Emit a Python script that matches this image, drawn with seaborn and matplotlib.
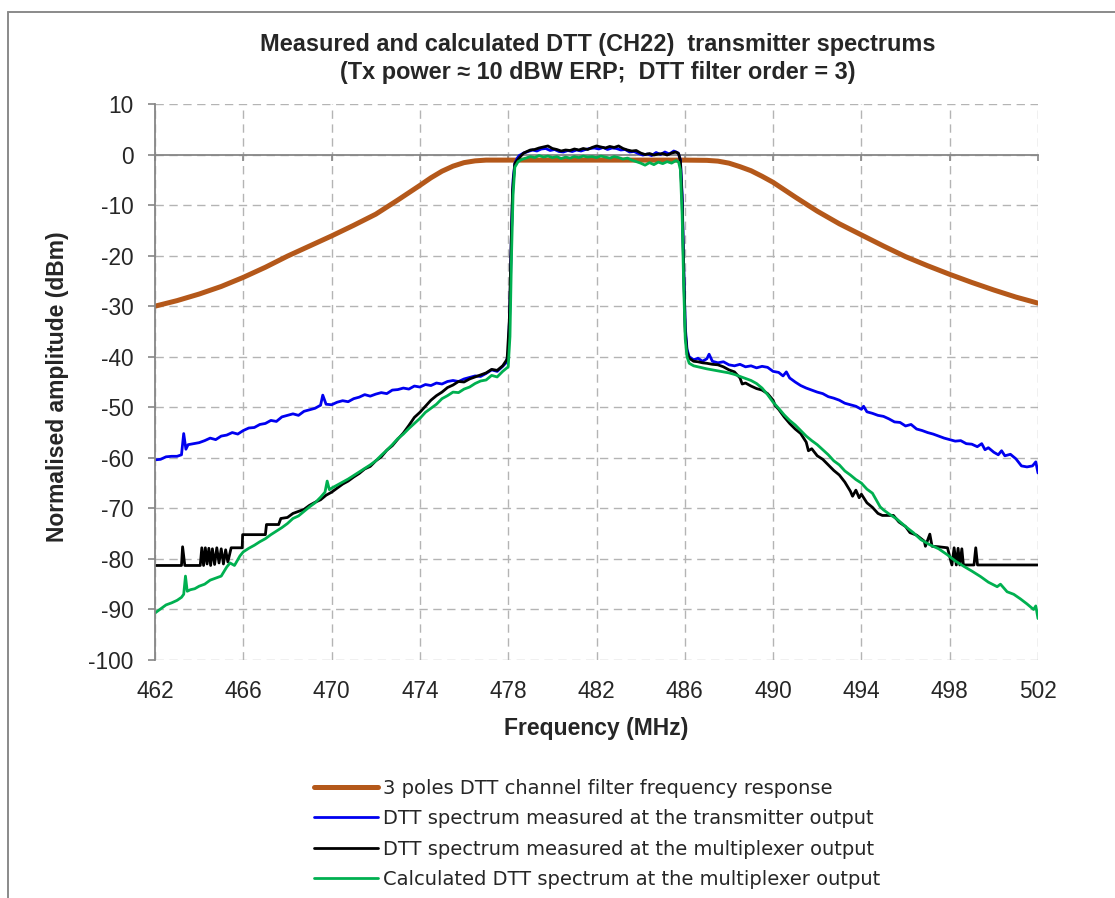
import matplotlib
matplotlib.use("Agg")
import matplotlib.pyplot as plt
from matplotlib.lines import Line2D
import pandas as pd
import seaborn as sns

# ---------------------------------------------------------------- data
x_ticks = [462, 466, 470, 474, 478, 482, 486, 490, 494, 498, 502]
y_ticks = [10, 0, -10, -20, -30, -40, -50, -60, -70, -80, -90, -100]

series_names = [
    "3 poles DTT channel filter frequency response",
    "DTT spectrum measured at the transmitter output",
    "DTT spectrum measured at the multiplexer output",
    "Calculated DTT spectrum at the multiplexer output",
]

# 3-pole channel filter response (dB)
filter_freq = [462, 463, 464, 465, 466, 467, 468, 469, 470, 471, 472, 473, 474,
               474.5, 475, 475.5, 476, 476.5, 477, 478, 480, 482, 484, 486,
               487, 487.5, 488, 488.5, 489, 489.5, 490, 491, 492, 493, 494,
               495, 496, 497, 498, 499, 500, 501, 502]
filter_db = [-30.0, -28.9, -27.6, -26.1, -24.3, -22.3, -20.1, -18.1, -16.1, -14.0,
             -11.8, -9.0, -6.1, -4.6, -3.3, -2.3, -1.6, -1.25, -1.1, -1.1, -1.1,
             -1.1, -1.1, -1.1, -1.15, -1.3, -1.7, -2.4, -3.2, -4.3, -5.5, -8.4,
             -11.2, -13.7, -15.9, -18.1, -20.2, -22.0, -23.7, -25.3, -26.8, -28.2,
             -29.4]

# spectrum at the transmitter output (dB)
tx_freq = [462.0, 462.25, 462.5, 462.75, 463.0, 463.2, 463.3, 463.4, 463.5, 463.75,
           464.0, 464.25, 464.5, 464.75, 465.0, 465.25, 465.5, 465.75, 466.0, 466.25,
           466.5, 466.75, 467.0, 467.25, 467.5, 467.75, 468.0, 468.25, 468.5, 468.75,
           469.0, 469.25, 469.5, 469.6, 469.75, 470.0, 470.25, 470.5, 470.75, 471.0,
           471.25, 471.5, 471.75, 472.0, 472.25, 472.5, 472.75, 473.0, 473.25, 473.5,
           473.75, 474.0, 474.25, 474.5, 474.75, 475.0, 475.25, 475.5, 475.75, 476.0,
           476.25, 476.5, 476.75, 477.0, 477.25, 477.5, 477.75, 477.9, 478.0, 478.08,
           478.15, 478.22, 478.3, 478.4, 478.5, 478.7, 478.9, 479.1, 479.3, 479.5,
           479.7, 479.9, 480.1, 480.3, 480.5, 480.7, 480.9, 481.1, 481.3, 481.5,
           481.7, 481.9, 482.1, 482.3, 482.5, 482.7, 482.9, 483.1, 483.3, 483.5,
           483.7, 483.9, 484.1, 484.3, 484.5, 484.7, 484.9, 485.1, 485.3, 485.5,
           485.7, 485.8, 485.88, 485.95, 486.02, 486.1, 486.2, 486.4, 486.6, 486.8,
           487.0, 487.1, 487.25, 487.5, 487.75, 488.0, 488.25, 488.5, 488.75, 489.0,
           489.25, 489.5, 489.75, 490.0, 490.25, 490.45, 490.6, 490.75, 491.0, 491.25,
           491.5, 491.75, 492.0, 492.25, 492.5, 492.75, 493.0, 493.25, 493.5, 493.75,
           494.0, 494.1, 494.25, 494.5, 494.75, 495.0, 495.25, 495.5, 495.75, 496.0,
           496.25, 496.5, 496.75, 497.0, 497.25, 497.5, 497.75, 498.0, 498.25, 498.5,
           498.75, 499.0, 499.25, 499.45, 499.6, 499.75, 500.0, 500.2, 500.35, 500.5,
           500.75, 501.0, 501.25, 501.5, 501.75, 501.9, 502.0]
tx_db = [-60.4, -60.3, -59.8, -59.7, -59.7, -59.4, -55.2, -58.3, -57.4, -57.2,
         -57.0, -56.6, -56.1, -56.4, -55.7, -55.5, -55.0, -55.3, -54.6, -54.1,
         -54.0, -53.4, -53.2, -52.6, -52.8, -51.9, -51.6, -51.3, -51.6, -50.8,
         -50.5, -50.2, -49.6, -47.6, -49.4, -49.5, -49.0, -48.7, -48.9, -48.3,
         -48.0, -47.5, -47.8, -47.4, -47.1, -47.3, -46.6, -46.5, -46.2, -46.4,
         -45.8, -46.0, -45.5, -45.7, -45.2, -45.4, -44.9, -44.7, -44.9, -44.4,
         -44.1, -43.8, -43.9, -43.3, -42.6, -42.9, -41.9, -41.2, -39.5, -30.0,
         -15.0, -5.0, -1.8, -0.8, -0.2, 0.3, 0.6, 0.9, 0.7, 1.1,
         1.2, 0.8, 1.0, 0.6, 0.5, 0.8, 0.6, 0.9, 0.7, 1.0,
         1.2, 1.3, 1.1, 1.4, 1.0, 1.3, 1.2, 0.9, 1.0, 0.5,
         0.6, 0.2, -0.1, 0.1, -0.2, 0.4, 0.0, 0.5, 0.1, 0.7,
         0.3, -1.0, -8.0, -22.0, -34.0, -38.5, -40.0, -40.6, -40.3, -40.9,
         -40.4, -39.5, -40.9, -41.2, -41.0, -41.6, -41.8, -41.5, -42.0, -41.8,
         -42.2, -41.9, -42.1, -42.9, -43.1, -43.8, -43.0, -44.2, -45.0, -45.7,
         -46.2, -46.6, -47.0, -47.3, -47.9, -48.2, -48.6, -49.2, -49.5, -49.8,
         -50.4, -49.8, -50.9, -51.2, -51.6, -51.8, -52.3, -52.9, -53.0, -53.7,
         -53.4, -54.3, -54.6, -55.0, -55.3, -55.7, -56.1, -56.4, -56.7, -56.6,
         -57.2, -57.3, -57.8, -57.2, -58.4, -58.0, -58.9, -59.4, -58.6, -59.6,
         -59.3, -60.2, -61.6, -61.8, -61.6, -60.8, -63.0]

# spectrum measured at the multiplexer output (dB)
mux_freq = [462.0, 463.2, 463.25, 463.35, 464.05, 464.12, 464.2, 464.28, 464.36, 464.44,
            464.52, 464.6, 464.7, 464.8, 464.9, 465.0, 465.1, 465.2, 465.3, 465.45,
            465.95, 465.97, 467.0, 467.05, 467.6, 467.7, 468.0, 468.25, 468.5, 468.75,
            469.0, 469.25, 469.5, 469.75, 470.0, 470.25, 470.5, 470.75, 471.0, 471.25,
            471.5, 471.75, 472.0, 472.25, 472.5, 472.75, 473.0, 473.25, 473.5, 473.75,
            474.0, 474.25, 474.5, 474.75, 475.0, 475.25, 475.5, 475.75, 476.0, 476.25,
            476.5, 476.75, 477.0, 477.25, 477.5, 477.75, 477.95, 478.05, 478.12, 478.2,
            478.3, 478.4, 478.55, 478.7, 478.85, 479.0, 479.2, 479.4, 479.6, 479.8,
            480.0, 480.2, 480.4, 480.6, 480.8, 481.0, 481.2, 481.4, 481.6, 481.8,
            482.0, 482.2, 482.4, 482.6, 482.8, 483.0, 483.2, 483.4, 483.6, 483.8,
            484.0, 484.2, 484.4, 484.6, 484.8, 485.0, 485.2, 485.4, 485.6, 485.72,
            485.8, 485.88, 485.95, 486.02, 486.1, 486.2, 486.4, 486.6, 486.8, 487.0,
            487.25, 487.5, 487.75, 488.0, 488.25, 488.5, 488.6, 488.75, 489.0, 489.25,
            489.5, 489.75, 490.0, 490.1, 490.25, 490.5, 490.75, 491.0, 491.25, 491.5,
            491.6, 491.75, 492.0, 492.25, 492.5, 492.75, 493.0, 493.25, 493.5, 493.6,
            493.75, 493.9, 494.0, 494.25, 494.5, 494.75, 494.95, 495.45, 495.7, 496.0,
            496.2, 496.5, 496.85, 496.9, 497.1, 497.2, 497.5, 497.9, 498.1, 498.2,
            498.3, 498.38, 498.46, 498.55, 498.62, 499.1, 499.18, 499.26, 502.0]
mux_db = [-81.3, -81.3, -77.6, -81.3, -81.3, -77.8, -81.3, -77.8, -81.0, -77.9,
          -81.3, -78.0, -81.1, -77.8, -80.8, -78.0, -81.0, -78.2, -80.6, -77.8,
          -77.8, -75.2, -75.2, -73.2, -73.2, -72.0, -71.8, -71.0, -70.6, -70.2,
          -69.4, -68.8, -68.3, -67.4, -66.8, -66.0, -65.2, -64.6, -63.8, -63.1,
          -62.2, -61.7, -60.6, -59.8, -58.5, -57.6, -56.3, -55.1, -53.6, -52.0,
          -51.0, -49.8, -48.6, -47.7, -47.0, -46.1, -45.6, -44.9, -45.0, -44.4,
          -44.0, -43.6, -43.2, -42.5, -42.7, -41.8, -40.5, -33.0, -20.0, -7.0,
          -1.8, -1.2, -0.4, 0.3, 0.6, 0.9, 1.0, 1.3, 1.5, 1.7,
          1.2, 1.0, 0.7, 0.9, 0.8, 1.1, 0.9, 1.2, 1.0, 1.4,
          1.7, 1.5, 1.3, 1.6, 1.4, 1.7, 1.2, 0.9, 0.7, 0.8,
          0.3, 0.0, 0.2, -0.1, 0.1, 0.2, -0.1, 0.3, 0.5, 0.2,
          -1.2, -9.0, -23.0, -35.0, -39.0, -40.3, -40.9, -41.0, -41.2, -41.3,
          -41.5, -41.6, -42.0, -42.6, -43.0, -44.2, -45.4, -45.2, -45.8, -46.3,
          -46.6, -47.3, -48.6, -49.7, -50.4, -51.9, -53.2, -54.3, -55.2, -56.9,
          -58.6, -58.2, -59.6, -60.3, -61.4, -62.5, -63.4, -64.8, -66.6, -67.6,
          -66.4, -67.9, -67.2, -68.9, -69.8, -71.0, -71.4, -71.4, -72.7, -73.6,
          -74.8, -75.3, -76.5, -77.5, -75.1, -77.5, -77.6, -77.8, -81.2, -77.8,
          -81.2, -77.9, -81.2, -78.0, -81.2, -81.2, -77.8, -81.2, -81.2]

# calculated spectrum at the multiplexer output (dB)
calc_freq = [462.0, 462.25, 462.5, 462.75, 463.0, 463.2, 463.3, 463.38, 463.46, 463.6,
             463.8, 464.0, 464.25, 464.5, 464.75, 465.0, 465.25, 465.4, 465.6, 465.85,
             466.0, 466.25, 466.5, 466.75, 467.0, 467.25, 467.5, 467.75, 468.0, 468.25,
             468.5, 468.75, 469.0, 469.25, 469.5, 469.7, 469.8, 469.9, 470.0, 470.25,
             470.5, 470.75, 471.0, 471.25, 471.5, 471.75, 472.0, 472.25, 472.5, 472.75,
             473.0, 473.25, 473.5, 473.75, 474.0, 474.25, 474.5, 474.75, 475.0, 475.25,
             475.5, 475.75, 476.0, 476.25, 476.5, 476.75, 477.0, 477.25, 477.5, 477.75,
             478.0, 478.08, 478.15, 478.22, 478.3, 478.45, 478.6, 478.8, 479.0, 479.2,
             479.4, 479.6, 479.8, 480.0, 480.2, 480.4, 480.6, 480.8, 481.0, 481.2,
             481.4, 481.6, 481.8, 482.0, 482.2, 482.4, 482.6, 482.8, 483.0, 483.2,
             483.4, 483.6, 483.8, 484.0, 484.2, 484.4, 484.6, 484.8, 485.0, 485.2,
             485.4, 485.6, 485.72, 485.8, 485.88, 485.95, 486.02, 486.1, 486.2, 486.4,
             486.6, 486.8, 487.0, 487.25, 487.5, 487.75, 488.0, 488.25, 488.5, 488.75,
             489.0, 489.25, 489.5, 489.75, 490.0, 490.25, 490.5, 490.75, 491.0, 491.25,
             491.5, 491.75, 492.0, 492.25, 492.5, 492.75, 493.0, 493.25, 493.5, 493.75,
             494.0, 494.25, 494.5, 494.85, 495.0, 495.25, 495.6, 496.0, 496.35, 496.7,
             497.1, 497.5, 497.9, 498.25, 498.65, 499.0, 499.4, 499.75, 500.15, 500.3,
             500.6, 500.9, 501.2, 501.5, 501.8, 501.9, 502.0]
calc_db = [-90.7, -89.9, -89.1, -88.7, -88.2, -87.6, -87.0, -83.4, -86.4, -86.1,
           -85.9, -85.4, -85.0, -84.2, -83.8, -83.4, -81.6, -80.8, -81.3, -79.4,
           -78.6, -77.9, -77.3, -76.6, -76.0, -75.2, -74.5, -73.8, -73.0, -72.0,
           -71.5, -70.6, -69.7, -68.9, -67.8, -66.8, -64.6, -66.3, -66.0, -65.4,
           -64.8, -64.2, -63.5, -62.8, -62.1, -61.4, -60.6, -59.5, -58.5, -57.4,
           -56.2, -55.3, -54.2, -53.2, -52.2, -51.0, -50.2, -49.4, -48.3, -47.7,
           -47.0, -47.1, -46.4, -46.0, -45.3, -44.8, -44.6, -43.7, -44.0, -42.9,
           -42.0, -36.0, -20.0, -8.0, -2.5, -1.4, -1.0, -0.7, -0.4, -0.6,
           -0.2, -0.5, -0.3, -0.6, -0.4, -0.8, -0.5, -0.7, -0.4, -0.6,
           -0.3, -0.5, -0.4, -0.6, -0.3, -0.5, -0.7, -0.4, -0.6, -0.9,
           -0.7, -1.1, -1.4, -1.7, -2.1, -1.6, -2.0, -1.5, -1.8, -1.4,
           -1.7, -1.2, -1.5, -3.0, -12.0, -26.0, -36.5, -40.0, -41.3, -41.8,
           -42.0, -42.2, -42.4, -42.6, -42.8, -43.0, -43.2, -43.5, -43.9, -44.3,
           -44.7, -45.3, -46.2, -47.5, -49.0, -50.2, -51.5, -52.6, -53.5, -54.6,
           -55.7, -56.6, -57.4, -58.4, -59.4, -60.6, -61.4, -62.6, -63.4, -64.3,
           -65.0, -66.2, -67.0, -69.7, -70.3, -71.1, -72.1, -73.6, -74.8, -76.2,
           -77.2, -78.0, -79.2, -80.4, -81.5, -82.4, -83.5, -84.6, -85.5, -85.0,
           -86.5, -87.0, -87.9, -88.9, -90.0, -89.3, -91.8]

# ---------------------------------------------------------------- style
W, H = 1115, 898
sns.set_theme(style="white")
plt.rcParams["font.family"] = ["Liberation Sans", "DejaVu Sans"]

axis_grey = "#868686"
grid_grey = "#b4b4b4"
colors = ["#b4581a", "#0000f0", "#000000", "#00b050"]
widths = [3.6, 2.0, 2.0, 2.0]

fig = plt.figure(figsize=(W / 100, H / 100), dpi=100)
fig.patch.set_facecolor("white")
ax = fig.add_axes([155 / W, 1 - 660 / H, (1038 - 155) / W, (660 - 104) / H])

curves = [(filter_freq, filter_db), (tx_freq, tx_db), (mux_freq, mux_db), (calc_freq, calc_db)]
handles = []
for (f, v), name, c, lw in zip(curves, series_names, colors, widths):
    df = pd.DataFrame({"Frequency (MHz)": f, "dB": v})
    sns.lineplot(data=df, x="Frequency (MHz)", y="dB", ax=ax, color=c, linewidth=lw,
                 estimator=None, sort=False, legend=False)
    handles.append(Line2D([], [], color=c, linewidth=lw))

ax.set_xlim(462, 502)
ax.set_ylim(-100, 10)
ax.set_xticks(x_ticks)
ax.set_yticks(y_ticks)
ax.set_yticklabels([str(t) for t in y_ticks])
ax.set_xlabel("")
ax.set_ylabel("")

ax.grid(True, color=grid_grey, linewidth=1.0, linestyle=(0, (6, 4)))
for side in ("top", "right"):
    ax.spines[side].set_visible(False)
ax.spines["left"].set_color(axis_grey)
ax.spines["left"].set_linewidth(1.3)
# horizontal axis crosses at 0 dB
ax.spines["bottom"].set_position(("data", 0))
ax.spines["bottom"].set_color(axis_grey)
ax.spines["bottom"].set_linewidth(1.3)
ax.spines["bottom"].set_zorder(1.5)
ax.tick_params(axis="x", direction="out", length=4, width=1.2, color=axis_grey,
               labelbottom=False, bottom=True)
ax.tick_params(axis="y", direction="out", length=5, width=1.2, color=axis_grey,
               labelsize=16.3, pad=10.5, left=True)

# frequency labels along the bottom of the plot area
sec = ax.secondary_xaxis("bottom")
sec.set_xticks(x_ticks)
sec.set_xticklabels([str(t) for t in x_ticks])
sec.tick_params(axis="x", length=0, labelsize=16.3, pad=14.5)
sec.spines["bottom"].set_visible(False)
sec.set_xlabel("Frequency (MHz)", fontsize=16.5, fontweight="bold", labelpad=10)

fig.text(58 / W, 1 - 387 / H, "Normalised amplitude (dBm)", rotation=90,
         ha="center", va="center", fontsize=16.5, fontweight="bold")

fig.text(598 / W, 1 - 44 / H, "Measured and calculated DTT (CH22)  transmitter spectrums",
         ha="center", va="center", fontsize=16.9, fontweight="bold")
fig.text(598 / W, 1 - 72 / H, "(Tx power \u2248 10 dBW ERP;  DTT filter order = 3)",
         ha="center", va="center", fontsize=16.9, fontweight="bold")

fig.legend(handles, series_names, loc="upper left",
           bbox_to_anchor=(314 / W, 1 - 779 / H), frameon=False,
           prop={"family": "DejaVu Sans", "size": 14.0},
           handlelength=3.3, handletextpad=0.25, labelspacing=0.58,
           borderpad=0, borderaxespad=0)

# chart frame
fig.add_artist(Line2D([8 / W, 8 / W], [0, 1 - 12 / H], transform=fig.transFigure,
                      color="#8a8a8a", linewidth=1.4))
fig.add_artist(Line2D([8 / W, 1], [1 - 12 / H, 1 - 12 / H], transform=fig.transFigure,
                      color="#8a8a8a", linewidth=1.4))

fig.savefig("out.png", dpi=100, facecolor="white")
